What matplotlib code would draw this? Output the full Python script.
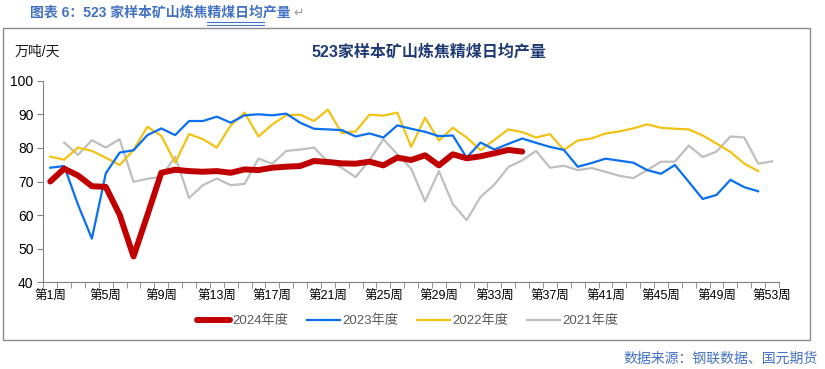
import numpy as np
import matplotlib.pyplot as plt
from matplotlib.patches import Rectangle
from matplotlib.lines import Line2D

plt.rcParams['font.family'] = ['Liberation Sans', 'Noto Sans CJK SC', 'DejaVu Sans']

# 周次 1..53
weeks = list(range(1, 54))
week_labels = ['第%d周' % w for w in weeks]

nan = np.nan
y2024 = [70.0, 73.8, 71.8, 68.6, 68.4, 60.1, 47.7, 60.0, 72.6, 73.5,
         73.1, 72.9, 73.1, 72.6, 73.6, 73.4, 74.1, 74.4, 74.6, 76.1,
         75.8, 75.4, 75.3, 75.9, 74.8, 77.1, 76.4, 77.8, 74.8, 78.1,
         76.9, 77.5, 78.4, 79.4, 78.9]
y2023 = [74.1, 74.6, 63.1, 53.0, 72.4, 78.6, 79.3, 83.8, 85.8, 83.8,
         88.0, 88.0, 89.3, 87.5, 89.7, 90.0, 89.7, 90.2, 87.5, 85.7,
         85.5, 85.3, 83.4, 84.3, 83.1, 86.7, 85.7, 84.8, 83.5, 83.7,
         77.1, 81.6, 79.5, 81.2, 82.8, 81.5, 80.3, 79.4, 74.4, 75.5,
         76.8, 76.2, 75.6, 73.4, 72.3, 74.9, 69.9, 64.8, 66.0, 70.5,
         68.3, 67.1]
y2022 = [77.4, 76.5, 80.1, 79.1, 77.1, 74.9, 79.4, 86.3, 83.6, 75.6,
         84.1, 82.6, 80.1, 86.7, 90.5, 83.4, 87.0, 89.7, 89.9, 88.0,
         91.4, 84.4, 84.9, 89.9, 89.6, 90.5, 80.3, 89.0, 82.2, 86.0,
         83.1, 79.3, 82.4, 85.5, 84.7, 83.1, 84.1, 79.4, 82.2, 82.8,
         84.3, 84.9, 85.8, 87.0, 86.0, 85.7, 85.5, 83.7, 81.3, 78.8,
         75.3, 73.1]
y2021 = [nan, 81.6, 77.9, 82.3, 80.1, 82.6, 69.9, 70.8, 71.4, 77.4,
         65.1, 68.9, 70.9, 68.9, 69.3, 76.8, 75.3, 79.1, 79.5, 80.1,
         75.9, 74.1, 71.3, 76.3, 82.6, 78.1, 73.8, 64.1, 73.1, 63.3,
         58.5, 65.4, 69.1, 74.3, 76.3, 79.1, 74.1, 74.7, 73.4, 74.0,
         72.9, 71.7, 71.0, 73.4, 75.9, 75.9, 80.7, 77.3, 78.9, 83.4,
         83.1, 75.3, 76.0]

fig = plt.figure(figsize=(8.25, 3.69), dpi=100)

# 外框
fig.patches.append(Rectangle((3 / 825, 1 - 340 / 369), 807 / 825, 312 / 369,
                             transform=fig.transFigure, fill=False,
                             edgecolor='#8c8c8c', lw=1.0))

ax = fig.add_axes([43.3 / 825, 1 - 282.3 / 369, 735.7 / 825, 201.6 / 369])

x = np.arange(len(weeks))
ax.plot(x[:len(y2021)], y2021, color='#BFBFBF', lw=1.6)
ax.plot(x[:len(y2022)], y2022, color='#F2C314', lw=1.6)
ax.plot(x[:len(y2023)], y2023, color='#0A6FF0', lw=1.6)
ax.plot(x[:len(y2024)], y2024, color='#C00000', lw=4.3, solid_capstyle='round',
        solid_joinstyle='round')

ax.set_xlim(-0.5, len(weeks) - 0.5)
ax.set_ylim(40, 100)
ax.set_yticks(range(40, 101, 10))
ax.set_xticks(x[::4])
ax.set_xticklabels(week_labels[::4])
ax.set_xticks(np.arange(-0.5, len(weeks), 1), minor=True)
ax.tick_params(axis='x', which='major', length=0, pad=6, labelsize=9)
ax.tick_params(axis='x', which='minor', length=4, color='#808080', direction='out')
ax.tick_params(axis='y', length=4, color='#808080', labelsize=10, pad=3)
for s in ['top', 'right']:
    ax.spines[s].set_visible(False)
for s in ['left', 'bottom']:
    ax.spines[s].set_color('#808080')

# 图例
handles = [Line2D([], [], color='#C00000', lw=4.3, solid_capstyle='round'),
           Line2D([], [], color='#0A6FF0', lw=1.6),
           Line2D([], [], color='#F2C314', lw=1.6),
           Line2D([], [], color='#BFBFBF', lw=1.6)]
leg = fig.legend(handles, ['2024年度', '2023年度', '2022年度', '2021年度'],
                 loc='center', bbox_to_anchor=(0.494, 1 - 321 / 369), ncol=4,
                 frameon=False, fontsize=9.5, handlelength=2.5,
                 handletextpad=0.2, columnspacing=1.4)
for t in leg.get_texts():
    t.set_color('#595959')

# 文字
fig.text(30 / 825, 1 - 13 / 369, '图表 6：523 家样本矿山炼焦精煤日均产量',
         color='#4472C4', fontsize=10, fontweight='bold', va='center', ha='left')
fig.text(293 / 825, 1 - 13 / 369, '↵', color='#9a9a9a', fontsize=9, va='center',
         ha='left', family='DejaVu Sans')
for yy in (22, 24.5):
    fig.add_artist(Line2D([207 / 825, 264 / 825], [1 - yy / 369, 1 - yy / 369],
                          color='#4472C4', lw=0.8))
fig.text(429 / 825, 1 - 52 / 369, '523家样本矿山炼焦精煤日均产量',
         color='#1F3A73', fontsize=11.5, fontweight='bold', va='center', ha='center')
fig.text(15 / 825, 1 - 52 / 369, '万吨/天', color='#1a1a1a', fontsize=10,
         va='center', ha='left')
fig.text(818 / 825, 1 - 359 / 369, '数据来源：钢联数据、国元期货',
         color='#4472C4', fontsize=10, va='center', ha='right')

fig.savefig('out.png', dpi=100)
